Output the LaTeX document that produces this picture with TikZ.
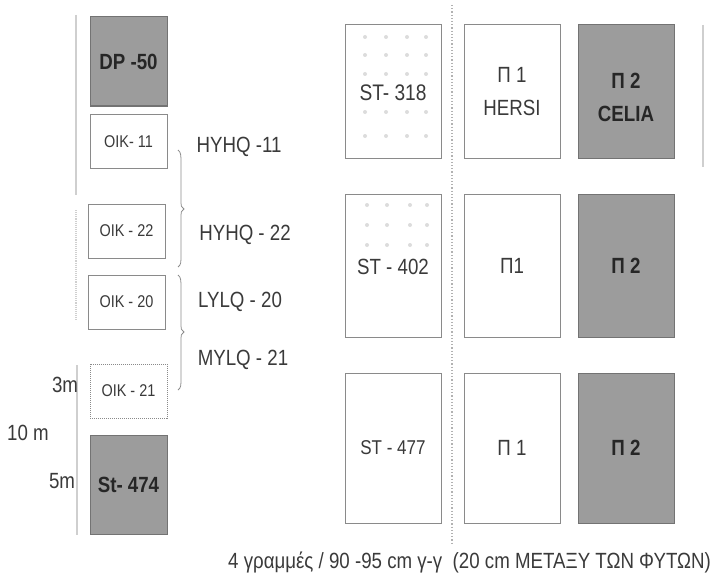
\documentclass[tikz,border=0pt]{standalone}
\usepackage{fontspec}
\setmainfont[FakeStretch=0.85]{Liberation Sans}
\definecolor{inkc}{HTML}{3A3A3A}
\definecolor{plotfill}{HTML}{9C9C9C}
\definecolor{edgec}{HTML}{8A8A8A}
\definecolor{railc}{HTML}{CFCFCF}
\definecolor{dotc}{HTML}{DCDCDC}
\tikzset{
  plot/.style={draw=edgec,line width=1pt,fill=white,inner sep=0pt,align=center,text=inkc},
  smallplot/.style={plot,minimum width=77pt,minimum height=54pt,font=\fontsize{17}{19}\selectfont},
  bigplot/.style={plot,minimum width=96pt,font=\fontsize{19}{30}\selectfont},
  darkplot/.style={draw=black!55,fill=plotfill,text=black!85},
  darktext/.style={font=\fontsize{22}{33}\selectfont\bfseries},
  sidelabel/.style={text=inkc,font=\fontsize{22}{24}\selectfont,inner sep=0pt},
  rail/.style={draw=railc,line width=1.1pt},
  midline/.style={draw=black!30,line width=1.2pt,dotted},
  bracec/.style={draw=black!45,line width=.8pt},
  seeddot/.style={circle,fill=dotc,inner sep=0pt,minimum size=4pt}
}
\begin{document}
\begin{tikzpicture}[x=1pt,y=-1pt]
\useasboundingbox (0,0) rectangle (718,586);
% free ends of rails
\coordinate (r1a) at (76,15);  \coordinate (r1b) at (76,195);
\coordinate (r2a) at (76,210); \coordinate (r2b) at (76,320);
\coordinate (r3a) at (77,365); \coordinate (r3b) at (77,535);
\coordinate (r4a) at (703,25); \coordinate (r4b) at (703,167);
\coordinate (m1) at (452,5);   \coordinate (m2) at (452,545);
\draw[rail] (r1a) -- (r1b);
\draw[rail,densely dotted] (r2a) -- (r2b);
\draw[rail] (r3a) -- (r3b);
\draw[rail] (r4a) -- (r4b);
\draw[midline] (m1) -- (m2);
% left column
\node[smallplot,darkplot,darktext,minimum height=89pt] (dp) at (128.5,61.5) {DP -50};
\node[smallplot] (o11) at (128.5,141.5) {OIK- 11};
\node[smallplot] (o22) at (126.5,231) {OIK - 22};
\node[smallplot] (o20) at (126.5,302) {OIK - 20};
\node[smallplot,densely dotted] (o21) at (128.5,391) {OIK - 21};
\node[smallplot,darkplot,darktext,minimum height=99pt] (st474) at (128.5,484.5) {St- 474};
% braces
\coordinate (b1a) at (178,150); \coordinate (b1m) at (184,209); \coordinate (b1b) at (178,267);
\coordinate (b2a) at (178,275); \coordinate (b2m) at (184,332); \coordinate (b2b) at (178,390);
\draw[bracec] (b1a) .. controls (181,152) and (181,156) .. (181,162) -- (181,203) .. controls (181,206) .. (b1m) .. controls (181,212) .. (181,215) -- (181,256) .. controls (181,262) and (181,265) .. (b1b);
\draw[bracec] (b2a) .. controls (181,277) and (181,281) .. (181,287) -- (181,326) .. controls (181,329) .. (b2m) .. controls (181,335) .. (181,338) -- (181,379) .. controls (181,385) and (181,388) .. (b2b);
% variety labels
\node[sidelabel] (h11) at (239,147) {HYHQ -11};
\node[sidelabel] (h22) at (245,235) {HYHQ - 22};
\node[sidelabel] (l20) at (240,302) {LYLQ - 20};
\node[sidelabel] (m21) at (243,360) {MYLQ - 21};
% distances
\node[sidelabel] (d3) at (65,385) {3m};
\node[sidelabel] (d10) at (28,433) {10 m};
\node[sidelabel] (d5) at (62,481) {5m};
% right blocks
\node[bigplot,minimum height=133pt] (s318) at (393,91.5) {};
\node[bigplot,minimum height=143pt] (s402) at (393,265.5) {};
\foreach \px in {365,386,407,426}{
  \foreach \py in {37,55,74,112,136}{ \node[seeddot] at (\px,\py) {}; }
}
\foreach \px in {367,387,410,427}{
  \foreach \py in {205,225,245}{ \node[seeddot] at (\px,\py) {}; }
}
\node[text=inkc,font=\fontsize{22.5}{24}\selectfont,inner sep=0pt] (t318) at (393,93) {ST- 318};
\node[text=inkc,font=\fontsize{22}{24}\selectfont,inner sep=0pt] (t402) at (393,267) {ST - 402};
\node[bigplot,font=\fontsize{20}{22}\selectfont,minimum height=150pt] (s477) at (393,448) {ST - 477};
\node[bigplot,font=\fontsize{22}{33}\selectfont,minimum height=133pt] (p11) at (512,91.5) {Π 1\\HERSI};
\node[bigplot,font=\fontsize{22}{24}\selectfont,minimum height=143pt] (p12) at (512,265.5) {Π1};
\node[bigplot,font=\fontsize{22}{24}\selectfont,minimum height=150pt] (p13) at (512,448) {Π 1};
\node[bigplot,darkplot,darktext,minimum height=133pt] (p21) at (626,91.5) {\\[-6pt]Π 2\\CELIA};
\node[bigplot,darkplot,darktext,minimum height=143pt] (p22) at (626,265.5) {Π 2};
\node[bigplot,darkplot,darktext,minimum height=150pt] (p23) at (626,448) {Π 2};
\node[anchor=base east,text=inkc,inner sep=0pt,font=\fontsize{22}{24}\selectfont] (cap) at (711,568) {4 γραμμές / 90 -95 cm γ-γ\ \ (20 cm ΜΕΤΑΞΥ ΤΩΝ ΦΥΤΩΝ)};
\end{tikzpicture}
\end{document}
